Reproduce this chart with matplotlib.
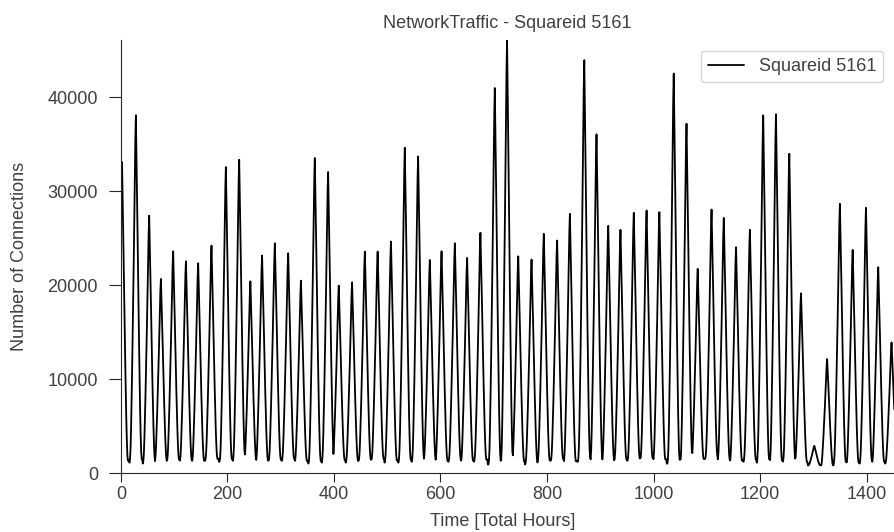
import matplotlib
matplotlib.use('Agg')
import matplotlib.pyplot as plt
import numpy as np
import seaborn as sns

sns.set_style('ticks')
plt.rcParams['font.family'] = ['Liberation Sans', 'DejaVu Sans']

# hour of each daily peak
peak_hours = [2, 28, 53, 75, 98, 122, 145, 170, 197, 222,
              243, 265, 289, 314, 338, 364, 389, 409, 434, 458,
              482, 507, 533, 558, 580, 602, 627, 650, 675, 702,
              725, 746, 771, 794, 819, 843, 870, 893, 915, 938,
              963, 987, 1011, 1038, 1062, 1083, 1109, 1132, 1155, 1181,
              1206, 1230, 1255, 1277, 1302, 1326, 1350, 1374, 1399, 1422,
              1447]

# daily peak number of connections
peak_values = [33100, 38080, 27400, 20660, 23600, 22540, 22330, 24210, 32570, 33350,
               20410, 23150, 24460, 23400, 20480, 33530, 32040, 19950, 20300, 23570,
               23570, 24640, 34630, 33700, 22680, 23610, 24460, 22900, 25570, 40990,
               46080, 23070, 22720, 25460, 24750, 27590, 43950, 36050, 26310, 25890,
               27700, 27950, 27770, 42530, 37190, 21730, 28050, 27160, 24040, 25890,
               38080, 38190, 33990, 19130, 2900, 12130, 28660, 23750, 28230, 21900,
               13900]

# night-time minimum around each peak
trough_values = [1000, 1100, 1000, 1100, 1200, 1100, 1100, 1300, 1200, 1300,
                 1200, 1100, 1200, 1300, 1100, 1000, 1100, 1200, 1100, 1200,
                 1300, 1100, 1100, 1200, 1200, 1100, 1200, 1100, 1200, 900,
                 900, 1000, 900, 1100, 1300, 1000, 1200, 1100, 1100, 1200,
                 1300, 1400, 1200, 1000, 1100, 1300, 1500, 1200, 1100, 1200,
                 1100, 1000, 1200, 1000, 800, 700, 900, 900, 1000, 1000,
                 1000]

# typical shape of one day, hours -12 .. +11 around the peak (fraction of peak height)
day_shape = [0.00, 0.01, 0.04, 0.10, 0.18, 0.27, 0.37, 0.47, 0.58, 0.70, 0.82, 0.93,
             1.00, 0.90, 0.80, 0.68, 0.56, 0.45, 0.34, 0.24, 0.15, 0.08, 0.03, 0.01]

n_hours = 1464
peaks = np.array(peak_hours)
hours = np.arange(n_hours)
traffic = np.zeros(n_hours)
for t in hours:
    k = np.argmin(np.abs(t - peaks))
    d = int(np.clip(t - peaks[k], -12, 11))
    traffic[t] = trough_values[k] + (peak_values[k] - trough_values[k]) * day_shape[d + 12]

fs = 13
txt = '.25'

fig = plt.figure(figsize=(8.94, 5.32), dpi=100)
ax = fig.add_axes([0.1353, 0.1109, 0.8647, 0.8139])
ax.plot(hours, traffic, color='black', linewidth=1.3, label='Squareid 5161')

ax.set_xlim(0, 1451.6)
ax.set_ylim(0, 46100)
ax.set_xticks([0, 200, 400, 600, 800, 1000, 1200, 1400])
ax.set_yticks([0, 10000, 20000, 30000, 40000])
ax.tick_params(labelsize=fs, labelcolor=txt, color='.15')
ax.tick_params(axis='x', length=6.5, pad=3)
ax.tick_params(axis='y', length=8.5, pad=8)
ax.set_xlabel('Time [Total Hours]', fontsize=fs, color=txt)
ax.set_ylabel('Number of Connections', fontsize=fs, color=txt)
ax.xaxis.set_label_coords(0.494, -0.092)
ax.yaxis.set_label_coords(-0.12, 0.5)
ax.set_title('NetworkTraffic - Squareid 5161', fontsize=fs, color=txt, pad=9)
leg = ax.legend(loc='upper right', fontsize=fs, frameon=True, borderaxespad=0.6)
for t in leg.get_texts():
    t.set_color(txt)
sns.despine(ax=ax)

fig.savefig('out.png', dpi=100)
